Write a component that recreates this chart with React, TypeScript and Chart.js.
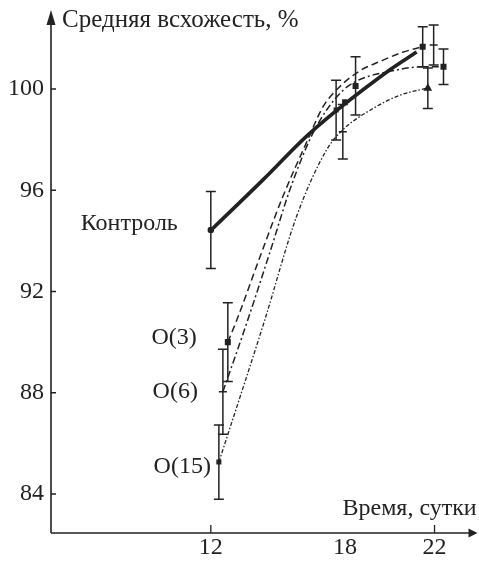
import React, { useEffect, useRef } from "react";
import { Chart, registerables } from "chart.js";

Chart.register(...registerables);

const seriesNames = ["Контроль", "O(3)", "O(6)", "O(15)"];
const yAxisTitle = "Средняя всхожесть, %";
const xAxisTitle = "Время, сутки";
const yTicks = [84, 88, 92, 96, 100];
const xTicks = [12, 18, 22];
const xTickMarks = [12, 22];

// measured points: day, mean germination %, ± error
const controlDays = [12, 17.6, 21.96];
const controlValues = [94.43, 99.17, 101.74];
const controlErrors = [1.52, 1.18, 0.79];

const o3Days = [12.76, 18.47, 21.47];
const o3Values = [90.0, 100.12, 101.67];
const o3Errors = [1.56, 1.15, 0.79];

const o6Days = [12.54, 17.98, 22.4];
const o6Values = [88.04, 99.5, 100.88];
const o6Errors = [1.68, 0, 0.7];

const o15Days = [12.36, 17.9, 21.7];
const o15Values = [85.26, 98.31, 100.03];
const o15Errors = [1.47, 1.08, 0.8];

// fitted curves
const controlCurveDays = [12.1, 14.33, 16.42, 19.99, 21.2];
const controlCurveValues = [94.5, 96.41, 98.25, 100.75, 101.46];

const o3CurveDays = [12.76, 13.16, 14.26, 15.21, 16.33, 17.01, 17.76, 18.72, 19.54, 20.57, 21.47];
const o3CurveValues = [90.0, 90.87, 93.52, 95.73, 97.99, 99.29, 100.09, 100.75, 101.08, 101.45, 101.67];

const o6CurveDays = [12.54, 13.65, 14.63, 15.53, 16.42, 17.2, 18.12, 20.3, 21.55, 22.4];
const o6CurveValues = [88.04, 90.87, 93.52, 96.01, 97.99, 99.2, 100.1, 100.75, 100.88, 100.88];

const o15CurveDays = [12.36, 14.41, 15.83, 17.17, 17.89, 19.25, 20.44, 21.63];
const o15CurveValues = [85.26, 90.87, 94.96, 97.59, 98.38, 99.23, 99.75, 100.03];

const INK = "#222222";
const FONT = "'Liberation Serif', 'DejaVu Serif', serif";

const pts = (xs: number[], ys: number[], es?: number[]) =>
  xs.map((x, i) => ({ x, y: ys[i], e: es ? es[i] : 0 }));

// label offsets (pixels) relative to each series' first measured point
const labelOffsets = [
  { dx: -33, dy: -6 },
  { dx: -31, dy: -4 },
  { dx: -25, dy: 0 },
  { dx: -8, dy: 5 },
];

const overlayPlugin = {
  id: "overlay",
  afterDatasetsDraw(chart: any) {
    const { ctx, chartArea, scales } = chart;
    const xs = scales.x;
    const ys = scales.y;
    const L = chartArea.left;
    const B = chartArea.bottom;
    const T = chartArea.top;
    const R = chartArea.right + 4;
    ctx.save();
    ctx.strokeStyle = INK;
    ctx.fillStyle = INK;

    // axes with arrows
    ctx.lineWidth = 1.6;
    ctx.beginPath();
    ctx.moveTo(L, B);
    ctx.lineTo(L, T + 14);
    ctx.moveTo(L, B);
    ctx.lineTo(R - 8, B);
    ctx.stroke();
    ctx.beginPath();
    ctx.moveTo(L, T);
    ctx.lineTo(L - 4.5, T + 15);
    ctx.lineTo(L + 4.5, T + 15);
    ctx.closePath();
    ctx.fill();
    ctx.beginPath();
    ctx.moveTo(R, B);
    ctx.lineTo(R - 9, B - 4.5);
    ctx.lineTo(R - 9, B + 4.5);
    ctx.closePath();
    ctx.fill();

    // inward tick marks
    ctx.lineWidth = 1.3;
    ctx.beginPath();
    yTicks.forEach((v) => {
      const p = ys.getPixelForValue(v);
      ctx.moveTo(L, p);
      ctx.lineTo(L + 5, p);
    });
    xTickMarks.forEach((v) => {
      const p = xs.getPixelForValue(v);
      ctx.moveTo(p, B);
      ctx.lineTo(p, B - 8);
    });
    ctx.stroke();

    // error bars
    ctx.lineWidth = 1.5;
    chart.data.datasets.forEach((ds: any) => {
      if (!ds.isMarkers) return;
      ds.data.forEach((d: any) => {
        if (!d.e) return;
        const px = xs.getPixelForValue(d.x);
        const top = ys.getPixelForValue(d.y + d.e);
        const bot = ys.getPixelForValue(d.y - d.e);
        ctx.beginPath();
        ctx.moveTo(px, top);
        ctx.lineTo(px, bot);
        ctx.moveTo(px - 5, top);
        ctx.lineTo(px + 5, top);
        ctx.moveTo(px - 5, bot);
        ctx.lineTo(px + 5, bot);
        ctx.stroke();
      });
    });

    // texts
    ctx.font = `25px ${FONT}`;
    ctx.textBaseline = "alphabetic";
    ctx.textAlign = "left";
    ctx.fillText(yAxisTitle, L + 11, T + 17);
    ctx.font = `24px ${FONT}`;
    ctx.fillText(xAxisTitle, R - 135, B - 18);

    const firsts = [
      [controlDays[0], controlValues[0]],
      [o3Days[0], o3Values[0]],
      [o6Days[0], o6Values[0]],
      [o15Days[0], o15Values[0]],
    ];
    ctx.textAlign = "right";
    ctx.textBaseline = "middle";
    seriesNames.forEach((name, i) => {
      const px = xs.getPixelForValue(firsts[i][0]);
      const py = ys.getPixelForValue(firsts[i][1]);
      ctx.fillText(name, px + labelOffsets[i].dx, py + labelOffsets[i].dy);
    });
    ctx.restore();
  },
};

export default function App() {
  const ref = useRef<HTMLCanvasElement | null>(null);
  useEffect(() => {
    document.body.style.margin = "0";
    if (!ref.current) return;
    const curve = (xs: number[], ys: number[], width: number, dash: number[]) => ({
      type: "line",
      data: pts(xs, ys),
      borderColor: INK,
      borderWidth: width,
      borderDash: dash,
      pointRadius: 0,
      fill: false,
      cubicInterpolationMode: "monotone",
    });
    const markers = (xs: number[], ys: number[], es: number[], styles: string[], radius: number[]) => ({
      type: "scatter",
      isMarkers: true,
      data: pts(xs, ys, es),
      showLine: false,
      pointStyle: styles,
      pointRadius: radius,
      pointBackgroundColor: INK,
      pointBorderColor: INK,
      pointBorderWidth: 1.5,
    });
    const chart = new Chart(ref.current, {
      type: "scatter",
      data: {
        datasets: [
          curve(controlCurveDays, controlCurveValues, 3.6, []),
          curve(o3CurveDays, o3CurveValues, 1.5, [7, 4]),
          curve(o6CurveDays, o6CurveValues, 1.5, [7, 3, 2, 3]),
          curve(o15CurveDays, o15CurveValues, 1.3, [4, 2, 1.5, 2]),
          markers(controlDays, controlValues, controlErrors, ["circle", "rect", "line"], [2.5, 2.5, 4]),
          markers(o3Days, o3Values, o3Errors, ["rect", "rect", "rect"], [3.2, 3.2, 3.2]),
          markers(o6Days, o6Values, o6Errors, ["line", "rect", "rect"], [4, 2.5, 3.2]),
          markers(o15Days, o15Values, o15Errors, ["rect", "line", "triangle"], [2.5, 4, 3.5]),
        ] as any,
      },
      plugins: [overlayPlugin],
      options: {
        animation: false,
        responsive: true,
        maintainAspectRatio: false,
        layout: { padding: { top: 10, right: 1, left: 0, bottom: 0 } },
        plugins: { legend: { display: false }, tooltip: { enabled: false } },
        scales: {
          x: {
            type: "linear",
            min: 4.857,
            max: 23.741,
            grid: { display: false, drawTicks: false },
            border: { display: false },
            afterBuildTicks: (s: any) => {
              s.ticks = xTicks.map((v) => ({ value: v }));
            },
            afterFit: (s: any) => {
              s.height = 28;
              s.paddingLeft = 0;
              s.paddingRight = 0;
              s.paddingTop = 0;
              s.paddingBottom = 0;
            },
            ticks: {
              autoSkip: false,
              maxRotation: 0,
              padding: 0,
              color: INK,
              font: { family: FONT, size: 24 },
              callback: (v: any) => String(v),
            },
          },
          y: {
            type: "linear",
            min: 82.459,
            max: 103.121,
            grid: { display: false, drawTicks: false },
            border: { display: false },
            afterBuildTicks: (s: any) => {
              s.ticks = yTicks.map((v) => ({ value: v }));
            },
            afterFit: (s: any) => {
              s.width = 51;
              s.paddingLeft = 0;
              s.paddingRight = 0;
              s.paddingTop = 0;
              s.paddingBottom = 0;
            },
            ticks: {
              autoSkip: false,
              padding: 7,
              color: INK,
              font: { family: FONT, size: 24 },
              callback: (v: any) => String(v),
            },
          },
        },
      } as any,
    });
    return () => chart.destroy();
  }, []);
  return (
    <div style={{ width: 479, height: 561, position: "relative" }}>
      <canvas ref={ref} />
    </div>
  );
}
